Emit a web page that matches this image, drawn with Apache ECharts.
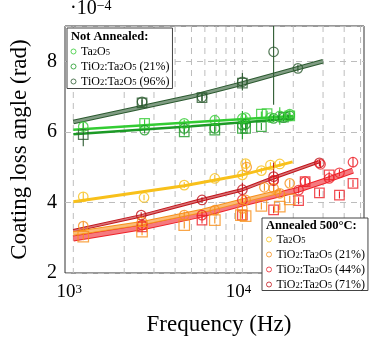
<!DOCTYPE html>
<html><head><meta charset="utf-8">
<script src="https://cdn.jsdelivr.net/npm/echarts@6/dist/echarts.min.js"></script>
<style>html,body{margin:0;padding:0;background:#fff}#c{width:374px;height:344px}</style>
</head><body><div id="c"></div>
<script>
// ---- tick / grid values ----
const freqGrid = [1000,2000,3000,4000,5000,6000,7000,8000,9000,10000,20000,30000,40000,50000];
const yTicks = [2,4,6,8];
const xMin = 893, xMax = 52400, yMin = 2, yMax = 9;

// ---- Not annealed (values in units of 1e-4 rad): [freq, value, error] ----
const naTaCircles = [[1145,6.15,0.12],[4530,6.24,0.1],[6870,6.33,0.12],[10000,6.38,0.1],[10450,6.40,0.1],[14650,6.40,0.1],[16640,6.45,0.25],[19060,6.50,0.1]];
const naTaSquares = [[2640,6.24,0.12],[12950,6.50,0.08],[14000,6.52,0.08],[19060,6.45,0.08]];
const naTaFit = [[1000,6.06],[5000,6.27],[20000,6.45]];

const na21Circles = [[2640,6.05,0.1],[4530,6.10,0.1],[6870,6.10,0.1],[10000,6.19,0.4],[10450,6.22,0.1],[15300,6.38,0.1],[17500,6.40,0.1],[19060,6.45,0.1]];
const na21Squares = [[4530,6.00,0.1],[6870,6.05,0.1],[10000,6.10,0.1],[10450,6.10,0.1],[12950,6.15,0.1],[17500,6.42,0.1]];
const na21Fit = [[1000,5.93],[5000,6.16],[20000,6.38]];

const na96Circles = [[2550,6.85,0.12],[5770,6.98,0.12],[10000,7.42,0.25],[15300,8.27,1.5],[21300,7.80,0.1]];
const na96Squares = [[1145,5.92,0.33],[2550,6.82,0.1],[5770,6.97,0.1],[10000,7.38,0.1]];
const na96Fit = [[1000,6.28],[2500,6.69],[5000,7.00],[10000,7.37],[20000,7.77],[30000,8.00]];

// ---- Annealed 500 C ----
const anTaCircles = [[1145,4.16,0.12],[2620,4.14,0.08],[4530,4.49,0.08],[6870,4.68,0.1],[10000,4.78,0.1],[10450,5.10,0.12],[12950,4.90,0.08],[14650,5.06,0.08],[16640,5.09,0.08]];
const anTaFit = [[1000,4.02],[4530,4.47],[10000,4.78],[19800,5.15]];

const an21Circles = [[1145,3.33,0.12],[2550,3.45,0.1],[4530,3.64,0.1],[6870,3.78,0.1],[10000,3.83,0.1],[10450,4.07,0.1],[10600,5.00,0.1],[13500,4.43,0.1],[15300,4.40,0.1],[16640,4.26,0.1],[19060,4.54,0.1]];
const an21Squares = [[1145,3.03,0.1],[2550,3.17,0.1],[4530,3.36,0.1],[6870,3.50,0.1],[9800,3.64,0.1],[10450,3.61,0.1],[12950,3.90,0.1],[16640,3.88,0.1],[19060,4.09,0.1]];
const an21Fit = [[1000,3.12],[2600,3.42],[5800,3.76],[10000,4.05],[17000,4.32]];

const an44Circles = [[2550,3.36,0.1],[5770,3.64,0.1],[10000,4.07,0.1],[15300,4.63,0.1],[21500,4.35,0.1],[23500,4.59,0.1],[29000,5.08,0.1],[32600,4.68,0.1],[37500,4.84,0.1],[45100,5.14,0.15]];
const an44Squares = [[2550,3.31,0.1],[5770,3.50,0.1],[10000,3.64,0.1],[15300,3.79,0.1],[21500,4.05,0.1],[23500,4.59,0.1],[28550,4.27,0.1],[32600,4.78,0.1],[37500,4.21,0.1],[45100,4.54,0.1]];
const an44Fit = [[1000,2.98],[2600,3.30],[5800,3.66],[10000,3.97],[21000,4.35],[31000,4.62],[45000,4.90]];

const an71Circles = [[2520,3.64,0.08],[5770,4.07,0.08],[10000,4.36,0.2],[15300,4.73,0.4],[15300,4.62,0.1],[28550,5.12,0.1]];
const an71Fit = [[1000,3.20],[2520,3.62],[5700,4.07],[10000,4.36],[15300,4.70],[28250,5.15]];

// ---- names / labels ----
const naNames = ['NA Ta2O5','NA 21%','NA 96%'];
const anNames = ['AN Ta2O5','AN 21%','AN 44%','AN 71%'];
const legendLabels = {
  'NA Ta2O5':'{m|Ta}{s|2}{m|O}{s|5}',
  'NA 21%':'{m|TiO}{s|2}{m|:Ta}{s|2}{m|O}{s|5}{m| (21%)}',
  'NA 96%':'{m|TiO}{s|2}{m|:Ta}{s|2}{m|O}{s|5}{m| (96%)}',
  'AN Ta2O5':'{m|Ta}{s|2}{m|O}{s|5}',
  'AN 21%':'{m|TiO}{s|2}{m|:Ta}{s|2}{m|O}{s|5}{m| (21%)}',
  'AN 44%':'{m|TiO}{s|2}{m|:Ta}{s|2}{m|O}{s|5}{m| (44%)}',
  'AN 71%':'{m|TiO}{s|2}{m|:Ta}{s|2}{m|O}{s|5}{m| (71%)}'
};
const colors = {
  'NA Ta2O5':'#33cc33','NA 21%':'#1c9a26','NA 96%':'#2c5a30',
  'AN Ta2O5':'#f8c01a','AN 21%':'#f7901c','AN 44%':'#ee2229','AN 71%':'#c0141a'
};

const FONT = '"Liberation Serif","Times New Roman",serif';

function mix(hex, t){
  const n = parseInt(hex.slice(1),16);
  const r = n>>16, g = (n>>8)&255, b = n&255;
  const f = c => Math.round(c + (255-c)*t);
  return 'rgb('+f(r)+','+f(g)+','+f(b)+')';
}

function errRender(color){
  return function(params, api){
    const f = api.value(0), v = api.value(1), e = api.value(2);
    const a = api.coord([f, v-e]), b = api.coord([f, v+e]);
    return {type:'line', shape:{x1:a[0],y1:a[1],x2:b[0],y2:b[1]}, style:{stroke:color, lineWidth:1.1}};
  };
}

function material(name, circles, squares, fit, bandW, sqSize){
  const c = colors[name];
  const out = [];
  const hollow = {color:'rgba(0,0,0,0)', borderColor:c, borderWidth:1.25};
  out.push({name, type:'scatter', z:5, symbol:'circle', symbolSize:9.5, data:circles, encode:{x:0,y:1}, itemStyle:hollow, emphasis:{disabled:true}, silent:true});
  if (squares) out.push({name, type:'scatter', z:5, symbol:'rect', symbolSize:sqSize||9, data:squares, encode:{x:0,y:1}, itemStyle:hollow, emphasis:{disabled:true}, silent:true});
  const all = circles.concat(squares||[]);
  out.push({name, type:'custom', z:4, clip:true, data:all, encode:{x:0,y:1}, renderItem:errRender(c), silent:true});
  out.push({name, type:'line', z:3, data:fit, showSymbol:false, symbol:'none', lineStyle:{color:c, width:bandW}, emphasis:{disabled:true}, silent:true});
  if (bandW > 3) out.push({name, type:'line', z:3, data:fit, showSymbol:false, symbol:'none', lineStyle:{color:mix(c,0.4), width:bandW-2}, emphasis:{disabled:true}, silent:true});
  return out;
}

const series = [].concat(
  [{name:'grid', type:'custom', z:1, data:freqGrid.map(f=>[f]), encode:{x:0}, silent:true,
    renderItem:function(params, api){
      const cs = params.coordSys;
      const x = api.coord([api.value(0), yMin])[0];
      return {type:'line', shape:{x1:x,y1:cs.y,x2:x,y2:cs.y+cs.height}, style:{stroke:'#bdbdbd', lineWidth:1, lineDash:[6,5]}};
    }}],
  material('NA 96%', na96Circles, na96Squares, na96Fit, 4.5, 9.5),
  material('NA 21%', na21Circles, na21Squares, na21Fit, 2.5, 9.5),
  material('NA Ta2O5', naTaCircles, naTaSquares, naTaFit, 2.5, 9.5),
  material('AN 71%', an71Circles, null, an71Fit, 3.5, 9.5),
  material('AN 44%', an44Circles, an44Squares, an44Fit, 6, 9.5),
  material('AN 21%', an21Circles, an21Squares, an21Fit, 4.5, 10.5),
  material('AN Ta2O5', anTaCircles, null, anTaFit, 3, 9.5)
);

const richLegend = {
  m:{fontFamily:FONT, fontSize:12, lineHeight:12, verticalAlign:'top', color:'#000'},
  s:{fontFamily:FONT, fontSize:8.5, lineHeight:8, padding:[6,0,0,0], verticalAlign:'bottom', color:'#000'}
};
function legendData(names){
  return names.map(n => ({name:n, icon:'circle', itemStyle:{color:'rgba(0,0,0,0)', borderColor:colors[n], borderWidth:1}}));
}
const legendCommon = {
  orient:'vertical', itemWidth:5, itemHeight:5, icon:'circle', backgroundColor:'#fff',
  borderColor:'#444', borderWidth:1, borderRadius:0, z:10, selectedMode:false,
  formatter: n => legendLabels[n], textStyle:{fontFamily:FONT, color:'#000', rich:richLegend}
};

const option = {
  animation:false,
  backgroundColor:'#fff',
  grid:{left:63, right:10, top:26, bottom:71, show:true, borderColor:'#333', borderWidth:1, backgroundColor:'rgba(0,0,0,0)'},
  xAxis:{
    type:'log', logBase:10, min:xMin, max:xMax,
    name:'Frequency (Hz)', nameLocation:'middle', nameGap:40,
    nameTextStyle:{fontFamily:FONT, fontSize:23, color:'#000', padding:[0,0,0,9]},
    axisLine:{show:false}, axisTick:{show:false}, splitLine:{show:false},
    axisLabel:{margin:10, color:'#000',
      formatter:function(v){ const e = Math.log10(v); return Math.abs(e-Math.round(e))<1e-6 ? '{m|10}{p|'+Math.round(e)+'}' : ''; },
      rich:{
        m:{fontFamily:FONT, fontSize:19, lineHeight:19, verticalAlign:'bottom', color:'#000'},
        p:{fontFamily:FONT, fontSize:13, lineHeight:11, padding:[0,8,9,0], verticalAlign:'top', color:'#000'}
      }}
  },
  yAxis:{
    type:'value', min:yMin, max:yMax, interval:2,
    name:'Coating loss angle (rad)', nameLocation:'middle', nameGap:34, nameRotate:90,
    nameTextStyle:{fontFamily:FONT, fontSize:23, color:'#000'},
    axisLine:{show:false}, axisTick:{show:false},
    axisLabel:{fontFamily:FONT, fontSize:20, color:'#000', margin:8, formatter:v => yTicks.includes(v) ? String(v) : ''},
    splitLine:{show:true, lineStyle:{type:[6,5], color:'#bdbdbd', width:1}}
  },
  legend:[
    Object.assign({}, legendCommon, {left:67, top:28, padding:[14.5,3,1,3.5], itemGap:0, data:legendData(naNames)}),
    Object.assign({}, legendCommon, {left:262, top:218, padding:[12.5,3,0,4], itemGap:0, data:legendData(anNames)})
  ],
  graphic:[
    {type:'text', left:71, top:30, z:20, style:{text:'Not Annealed:', fontFamily:FONT, fontSize:12.5, fontWeight:'bold', fill:'#000'}},
    {type:'text', left:266, top:219.5, z:20, style:{text:'Annealed 500°C:', fontFamily:FONT, fontSize:12.5, fontWeight:'bold', fill:'#000'}},
    {type:'text', left:70, top:-1, z:20, style:{text:'{a|·10}{b|−4}', rich:{
      a:{fontFamily:FONT, fontSize:20, lineHeight:20, verticalAlign:'bottom', fill:'#000', color:'#000'},
      b:{fontFamily:FONT, fontSize:14, lineHeight:12, padding:[0,0,10,0], verticalAlign:'top', fill:'#000', color:'#000'}
    }}}
  ],
  series: series
};

const chart = echarts.init(document.getElementById('c'), null, {renderer:'canvas'});
chart.setOption(option);
</script></body></html>
